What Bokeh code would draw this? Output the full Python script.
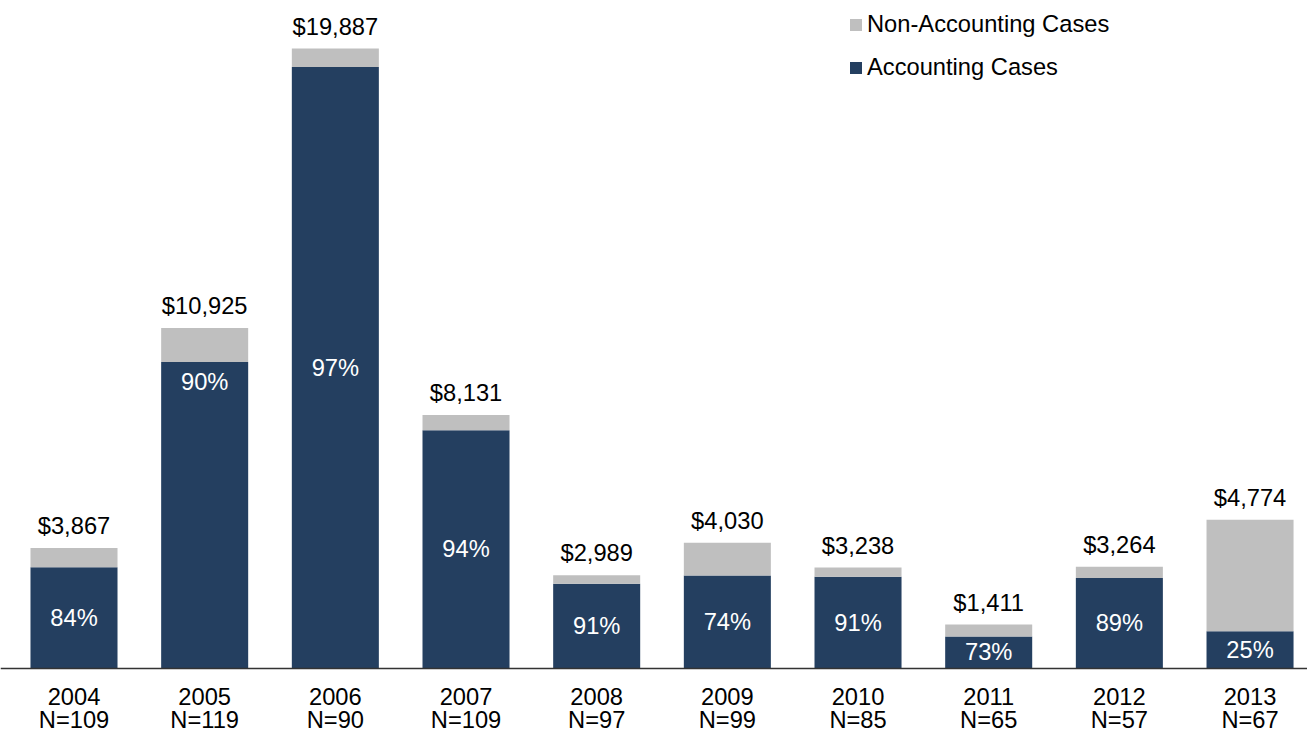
from bokeh.plotting import figure
from bokeh.models import ColumnDataSource, Range1d, Span, Legend, LegendItem
from bokeh.core.properties import value
from bokeh.embed import file_html
from bokeh.resources import INLINE

years = ["2004", "2005", "2006", "2007", "2008", "2009", "2010", "2011", "2012", "2013"]
n_cases = [109, 119, 90, 109, 97, 99, 85, 65, 57, 67]
totals = [3867, 10925, 19887, 8131, 2989, 4030, 3238, 1411, 3264, 4774]
acct_pct = [84, 90, 97, 94, 91, 74, 91, 73, 89, 25]
# where the % label sits, as a fraction of the accounting bar height
pct_label_frac = [0.5, 0.936, 0.5, 0.5, 0.5, 0.5, 0.5, 0.5, 0.5, 0.5]

NAVY = "#243F60"
GRAY = "#BFBFBF"
FONT = "Liberation Sans"
FS = "23.7px"

x = list(range(len(years)))
acct = [t * p / 100 for t, p in zip(totals, acct_pct)]
non = [t - a for t, a in zip(totals, acct)]

src = ColumnDataSource(dict(
    x=x, acct=acct, non=non, total=totals,
    total_lbl=["${:,}".format(t) for t in totals],
    pct_lbl=["{}%".format(p) for p in acct_pct],
    pct_y=[a * f for a, f in zip(acct, pct_label_frac)],
    year=years,
    n_lbl=["N={}".format(n) for n in n_cases],
    zero=[0] * len(years),
))

W, H = 1307, 732
BASE = 668
px_per_unit = 620 / 19887.0
y_top = BASE / px_per_unit
y_bot = -(H - BASE) / px_per_unit
step = 130.67
x_start = -73.5 / step
x_end = x_start + W / step

p = figure(width=W, height=H, output_backend="svg", toolbar_location=None,
           x_range=Range1d(x_start, x_end), y_range=Range1d(y_bot, y_top),
           min_border_left=0, min_border_right=0, min_border_top=0, min_border_bottom=0)
p.axis.visible = False
p.grid.visible = False
p.outline_line_color = None
p.background_fill_color = "white"

rs = p.vbar_stack(["acct", "non"], x="x", width=0.666, color=[NAVY, GRAY],
                  line_color=None, source=src)

p.add_layout(Span(location=0, dimension="width", line_color="#333333", line_width=1.5))

p.text(x="x", y="total", text="total_lbl", source=src, text_align="center",
       text_baseline="alphabetic", y_offset=-22, text_font=value(FONT),
       text_font_size=FS, text_color="black")
p.text(x="x", y="pct_y", text="pct_lbl", source=src, text_align="center",
       text_baseline="middle", text_font=value(FONT),
       text_font_size=FS, text_color="white")
p.text(x="x", y="zero", text="year", source=src, text_align="center",
       text_baseline="middle", y_offset=28, text_font=value(FONT),
       text_font_size=FS, text_color="black")
p.text(x="x", y="zero", text="n_lbl", source=src, text_align="center",
       text_baseline="middle", y_offset=51, text_font=value(FONT),
       text_font_size=FS, text_color="black")

legend = Legend(items=[LegendItem(label="Non-Accounting Cases", renderers=[rs[1]]),
                       LegendItem(label="Accounting Cases", renderers=[rs[0]])],
                location=(848, 651), orientation="vertical",
                glyph_width=15, glyph_height=15, label_height=22, spacing=16,
                label_standoff=4, padding=0, margin=0,
                label_text_font=FONT, label_text_font_size=FS,
                label_text_color="black",
                border_line_color=None, background_fill_alpha=0)
p.add_layout(legend)

open("out.html", "w").write(file_html(p, INLINE))
